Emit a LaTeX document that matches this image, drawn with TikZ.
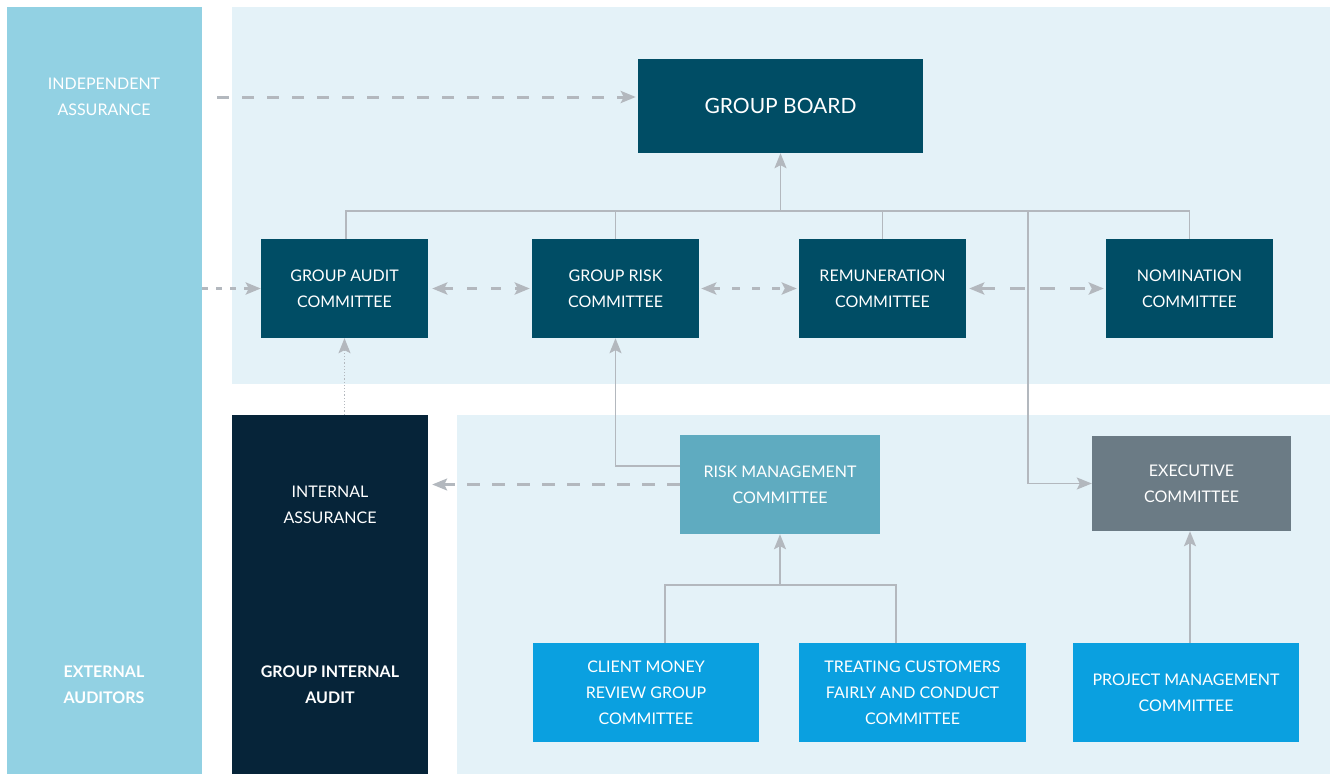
\documentclass[tikz,border=0pt]{standalone}
\usepackage{fontspec}
\setmainfont{Lato}
\usetikzlibrary{arrows.meta}
\definecolor{colLeft}{HTML}{92D1E3}
\definecolor{panel}{HTML}{E4F2F8}
\definecolor{darkblk}{HTML}{062439}
\definecolor{tealbox}{HTML}{004D65}
\definecolor{rmcbox}{HTML}{5FABC0}
\definecolor{execbox}{HTML}{6B7B85}
\definecolor{brightbox}{HTML}{0AA0E0}
\definecolor{conn}{HTML}{B3B8BE}
\tikzset{
  box/.style={rectangle, inner sep=0pt, text=white, align=center, font=\fontsize{16}{26}\selectfont},
  lbl/.style={inner sep=0pt, text=white, align=center, font=\fontsize{16}{26}\selectfont},
  conline/.style={draw=conn, line width=1.6pt},
  dashline/.style={draw=conn, line width=3pt},
  tip/.style={-{Stealth[length=15pt,width=12pt,inset=3pt]}},
  tips/.style={{Stealth[length=15pt,width=12pt,inset=3pt]}-{Stealth[length=15pt,width=12pt,inset=3pt]}},
}
\begin{document}
\begin{tikzpicture}[x=1pt,y=-1pt]
\useasboundingbox (0,0) rectangle (1330,774);
% backgrounds
\node[rectangle, fill=colLeft, minimum width=195pt, minimum height=767pt, inner sep=0pt] (colL) at (104.5,390.5) {};
\node[rectangle, fill=panel, minimum width=1098pt, minimum height=377pt, inner sep=0pt] (ptop) at (781,195.5) {};
\node[rectangle, fill=panel, minimum width=873pt, minimum height=359pt, inner sep=0pt] (pbot) at (893.5,594.5) {};
\node[rectangle, fill=darkblk, minimum width=196pt, minimum height=359pt, inner sep=0pt] (intblk) at (330,594.5) {};
% left column labels
\node[lbl] (indep) at (104,97) {INDEPENDENT\\ASSURANCE};
\node[lbl, font=\fontsize{16}{26}\selectfont\bfseries] (extaud) at (104,685) {EXTERNAL\\AUDITORS};
\node[lbl] (intass) at (330,505) {INTERNAL\\ASSURANCE};
\node[lbl, font=\fontsize{16}{26}\selectfont\bfseries] (gia) at (330,685) {GROUP INTERNAL\\AUDIT};
% boxes
\node[box, fill=tealbox, minimum width=285pt, minimum height=94pt, font=\fontsize{21}{26}\selectfont] (gb) at (780.5,106) {GROUP BOARD};
\node[box, fill=tealbox, minimum width=167pt, minimum height=99pt] (gac) at (344.5,288.5) {GROUP AUDIT\\COMMITTEE};
\node[box, fill=tealbox, minimum width=167pt, minimum height=99pt] (grc) at (615.5,288.5) {GROUP RISK\\COMMITTEE};
\node[box, fill=tealbox, minimum width=167pt, minimum height=99pt] (rem) at (882.5,288.5) {REMUNERATION\\COMMITTEE};
\node[box, fill=tealbox, minimum width=167pt, minimum height=99pt] (nom) at (1189.5,288.5) {NOMINATION\\COMMITTEE};
\node[box, fill=rmcbox, minimum width=200pt, minimum height=99pt] (rmc) at (780,484.5) {RISK MANAGEMENT\\COMMITTEE};
\node[box, fill=execbox, minimum width=199pt, minimum height=95pt] (exec) at (1191.5,483.5) {EXECUTIVE\\COMMITTEE};
\node[box, fill=brightbox, minimum width=226pt, minimum height=99pt] (cmr) at (646,692.5) {CLIENT MONEY\\REVIEW GROUP\\COMMITTEE};
\node[box, fill=brightbox, minimum width=227pt, minimum height=99pt] (tcf) at (912.5,692.5) {TREATING CUSTOMERS\\FAIRLY AND CONDUCT\\COMMITTEE};
\node[box, fill=brightbox, minimum width=226pt, minimum height=99pt] (pmc) at (1186,692.5) {PROJECT MANAGEMENT\\COMMITTEE};
% coordinates
\coordinate (bus) at (780.5,211);
\coordinate (exbus) at (1028,211);
\coordinate (j) at (780,585);
\coordinate (ia) at (217,97);
% bus
\draw[conline, tip] (bus) -- (gb.south);
\draw[conline] ([xshift=1.5pt]gac.north) -- ([xshift=1.5pt]gac.north |- bus) -- (nom.north |- bus) -- (nom.north);
\draw[conline] (grc.north) -- (grc.north |- bus);
\draw[conline] (rem.north) -- (rem.north |- bus);
\draw[conline, tip] (exbus) |- (exec.west);
% risk management links
\draw[conline, tip] ([yshift=18.5pt]rmc.west) -| (grc.south);
\draw[conline] ([xshift=19pt]cmr.north) |- (j) -| ([xshift=-16.5pt]tcf.north);
\draw[conline, tip] (j) -- (rmc.south);
\draw[conline, tip] ([xshift=-1.5pt]exec.south |- pmc.north) -- ([xshift=-1.5pt]exec.south);
% dashed links
\draw[dashline, dash pattern=on 12pt off 13pt, tip, shorten >=2pt] (ia) -- (gb.west |- ia);
\draw[dashline, dash pattern=on 6pt off 8pt, tip] (colL.east |- gac.west) -- (gac.west);
\draw[dashline, dash pattern=on 10pt off 14pt, tips, shorten <=4pt, shorten >=2pt] (gac.east) -- (grc.west);
\draw[dashline, dash pattern=on 8pt off 12pt, tips, shorten <=2pt, shorten >=2pt] (grc.east) -- (rem.west);
\draw[dashline, dash pattern=on 15pt off 15pt, tips, shorten <=3pt, shorten >=2pt] (rem.east) -- (nom.west);
\draw[dashline, line width=2.2pt, dash pattern=on 13pt off 12pt, tip, shorten >=4pt] (rmc.west) -- (intblk.east |- rmc.west);
\draw[draw=conn, line width=1.2pt, dotted, tip] (gac.south |- intblk.north) -- (gac.south);
\end{tikzpicture}
\end{document}
